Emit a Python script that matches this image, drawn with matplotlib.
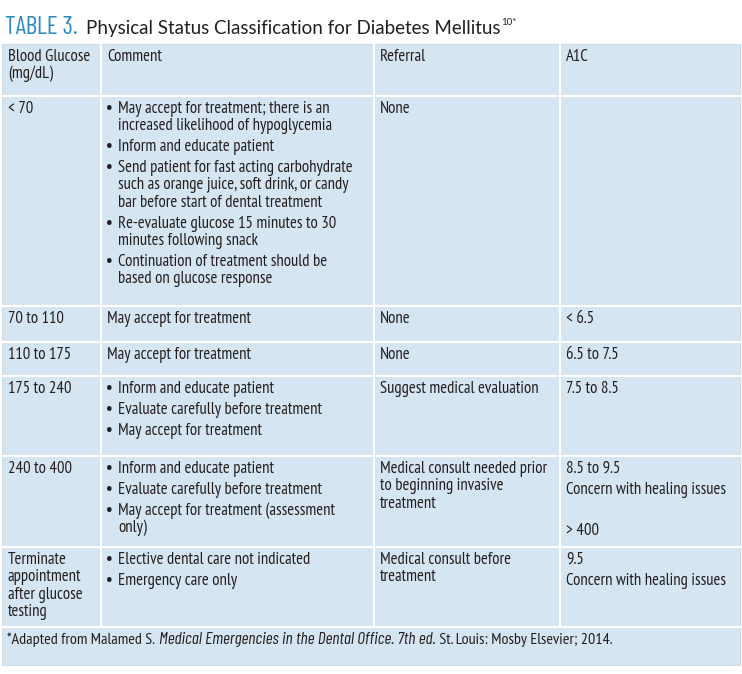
import matplotlib.pyplot as plt
from matplotlib.patches import Rectangle

# ---- table content ----
title_label = "TABLE 3."
title_text = "Physical Status Classification for Diabetes Mellitus"
title_sup = "10*"

headers = [["Blood Glucose", "(mg/dL)"], ["Comment"], ["Referral"], ["A1C"]]

glucose = [
    [["< 70"]],
    [["70 to 110"]],
    [["110 to 175"]],
    [["175 to 240"]],
    [["240 to 400"]],
    [["Terminate", "appointment", "after glucose", "testing"]],
]

comments = [
    [["May accept for treatment; there is an", "increased likelihood of hypoglycemia"],
     ["Inform and educate patient"],
     ["Send patient for fast acting carbohydrate",
      "such as orange juice, soft drink, or candy",
      "bar before start of dental treatment"],
     ["Re-evaluate glucose 15 minutes to 30", "minutes following snack"],
     ["Continuation of treatment should be", "based on glucose response"]],
    [["May accept for treatment"]],
    [["May accept for treatment"]],
    [["Inform and educate patient"],
     ["Evaluate carefully before treatment"],
     ["May accept for treatment"]],
    [["Inform and educate patient"],
     ["Evaluate carefully before treatment"],
     ["May accept for treatment (assessment", "only)"]],
    [["Elective dental care not indicated"],
     ["Emergency care only"]],
]
comment_bullets = [True, False, False, True, True, True]

referral = [
    [["None"]],
    [["None"]],
    [["None"]],
    [["Suggest medical evaluation"]],
    [["Medical consult needed prior", "to beginning invasive", "treatment"]],
    [["Medical consult before", "treatment"]],
]

a1c = [
    [],
    [["< 6.5"]],
    [["6.5 to 7.5"]],
    [["7.5 to 8.5"]],
    [["8.5 to 9.5"], ["Concern with healing issues"], [""], ["> 400"]],
    [["9.5"], ["Concern with healing issues"]],
]

footnote = [("*Adapted from Malamed S. ", "normal"),
            ("Medical Emergencies in the Dental Office. 7th ed.", "italic"),
            (" St. Louis: Mosby Elsevier; 2014.", "normal")]

# ---- layout ----
W, H = 742, 674
col_edges = [2, 101, 374, 560, 740]
row_edges = [44, 96, 306, 342, 376, 456, 547, 627, 665]
bg = "#d6e5f2"
ink = "#231f20"
teal = "#2a8ac4"
body = ["PT Sans Narrow", "Roboto Condensed", "Fira Sans Condensed", "Asap Condensed",
        "Archivo Narrow", "DejaVu Sans"]
body_it = ["Barlow Condensed", "Asap Condensed", "Roboto Condensed", "DejaVu Sans"]
label_font = ["Barlow Condensed", "PT Sans Narrow", "DejaVu Sans"]
head = ["Lato", "DejaVu Sans"]
fs = 12
line_step = 17.4
para_step = 20.8
pad_x = 6
first_base = 17

fig = plt.figure(figsize=(W / 100, H / 100), dpi=100)
ax = fig.add_axes([0, 0, 1, 1])
ax.set_xlim(0, W)
ax.set_ylim(H, 0)
ax.axis('off')

ax.add_patch(Rectangle((col_edges[0], row_edges[0]), col_edges[-1] - col_edges[0],
                       row_edges[-1] - row_edges[0], facecolor=bg, edgecolor="#c9d6e0", lw=0.6))
for x in col_edges[1:-1]:
    ax.plot([x, x], [row_edges[0], row_edges[-2]], color="white", lw=1.5)
for y in row_edges[1:-1]:
    ax.plot([col_edges[0], col_edges[-1]], [y, y], color="white", lw=1.5)


def draw_cell(x, top, paras, bullet=False):
    y = top + first_base
    for i, lines in enumerate(paras):
        if i > 0:
            y += para_step
        for j, line in enumerate(lines):
            if j > 0:
                y += line_step
            if bullet and j == 0:
                ax.text(x - 1, y, "\u2022", fontsize=fs + 1, family=body, weight='bold',
                        color=ink, va='baseline')
            ax.text(x + (11 if bullet else 0), y, line, fontsize=fs, family=body,
                    color=ink, va='baseline')


for c, lines in enumerate(headers):
    draw_cell(col_edges[c] + pad_x, row_edges[0], [lines])

for r in range(len(glucose)):
    top = row_edges[r + 1]
    draw_cell(col_edges[0] + pad_x, top, glucose[r])
    draw_cell(col_edges[1] + pad_x, top, comments[r], comment_bullets[r])
    draw_cell(col_edges[2] + pad_x, top, referral[r])
    draw_cell(col_edges[3] + pad_x, top, a1c[r])

fig.canvas.draw()
renderer = fig.canvas.get_renderer()


def fitted_text(x, y, s, width, size, **kw):
    # draw the text, then rescale its size so it spans the given width
    t = ax.text(x, y, s, fontsize=size, va='baseline', **kw)
    w = t.get_window_extent(renderer).width
    t.set_fontsize(size * width / w)
    return t


# title, chained pieces
t = fitted_text(5, 34, title_label, 73, 20, family=label_font, weight='normal', color=teal)
x = 86
t = ax.text(x, 34, title_text, fontsize=13.5, family=head, color=ink, va='baseline')
x = t.get_window_extent(renderer).x1 + 1
ax.text(x, 25, title_sup, fontsize=7, family=head, color=ink, va='baseline')

# footnote, chained pieces
x = col_edges[0] + 5
fy = row_edges[-2] + 17
t = ax.text(x, fy, footnote[0][0], fontsize=11.6, family=body, color=ink, va='baseline')
x = t.get_window_extent(renderer).x1 + 2
t = fitted_text(x, fy, footnote[1][0], 277, 11.6, family=body_it, style='italic', color=ink)
x = t.get_window_extent(renderer).x1
ax.text(x, fy, footnote[2][0], fontsize=11.6, family=body, color=ink, va='baseline')

fig.savefig("out.png", dpi=100)
